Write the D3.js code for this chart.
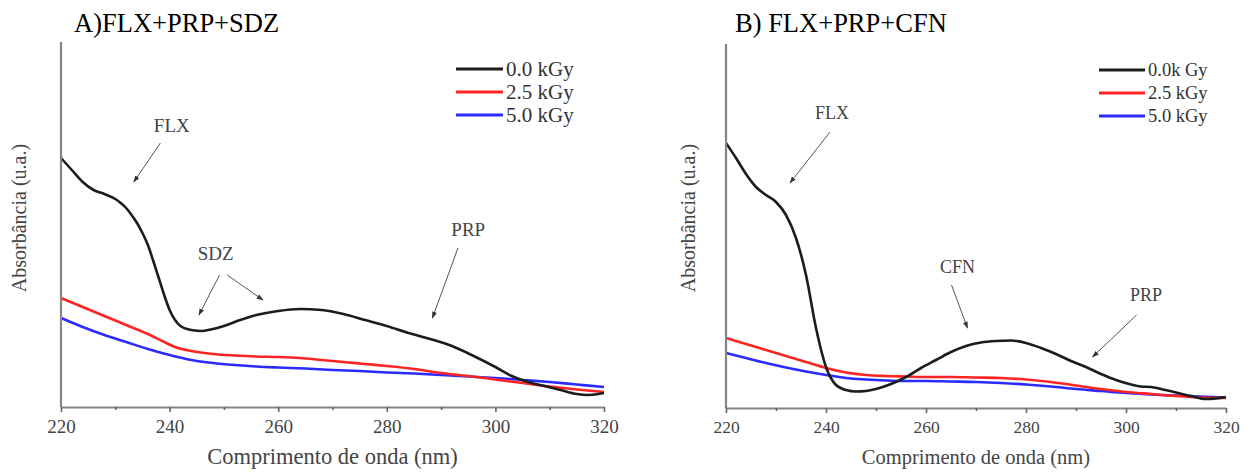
<!DOCTYPE html>
<html>
<head>
<meta charset="utf-8">
<script src="https://cdn.jsdelivr.net/npm/d3@7"></script>
<style>
  body { margin: 0; background: #fff; }
  svg { display: block; }
</style>
</head>
<body>
<div id="chart"></div>
<script>
// wavelength (nm), absorbance (u.a.)
const sdz00 = [[220,2.49],[222,2.37],[224,2.25],[226,2.17],[228,2.13],[230,2.08],[231,2.04],[232,1.99],
  [233,1.92],[234,1.84],[235,1.74],[236,1.62],[237,1.46],[238,1.29],[239,1.12],[240,0.97],[241,0.87],
  [242,0.81],[244,0.77],[246,0.76],[248,0.78],[250,0.81],[253,0.87],[256,0.92],[260,0.96],[264,0.98],
  [268,0.97],[272,0.93],[276,0.87],[280,0.81],[284,0.74],[288,0.68],[292,0.61],[296,0.51],[300,0.40],
  [303,0.31],[306,0.25],[309,0.21],[312,0.17],[315,0.13],[317,0.12],[319,0.13],[320,0.14]];
const sdz25 = [[220,1.09],[224,1.00],[228,0.91],[232,0.82],[236,0.73],[239,0.65],[241,0.60],[244,0.56],
  [248,0.53],[252,0.515],[256,0.505],[260,0.50],[264,0.49],[268,0.47],[272,0.45],[276,0.43],[280,0.41],
  [285,0.38],[290,0.34],[295,0.31],[300,0.275],[305,0.24],[310,0.205],[315,0.175],[320,0.15]];
const sdz50 = [[220,0.89],[224,0.80],[228,0.72],[232,0.65],[236,0.58],[240,0.52],[244,0.47],[248,0.44],
  [252,0.42],[256,0.405],[260,0.395],[265,0.385],[270,0.37],[275,0.36],[280,0.345],[285,0.335],[290,0.32],
  [295,0.305],[300,0.29],[305,0.27],[310,0.25],[315,0.225],[320,0.20]];

const cfn00 = [[220,2.65],[222,2.50],[224,2.34],[226,2.21],[228,2.13],[230,2.06],[232,1.93],[234,1.70],
  [236,1.33],[238,0.80],[240,0.41],[242,0.23],[244,0.18],[246,0.165],[248,0.17],[250,0.19],[253,0.24],
  [256,0.31],[259,0.40],[262,0.48],[265,0.56],[268,0.62],[271,0.655],[274,0.67],[277,0.675],[280,0.65],
  [283,0.60],[286,0.54],[289,0.47],[292,0.41],[295,0.34],[298,0.28],[301,0.235],[303,0.215],[305,0.21],
  [307,0.19],[310,0.155],[313,0.12],[316,0.09],[318,0.095],[320,0.11]];
const cfn25 = [[220,0.70],[224,0.64],[228,0.58],[232,0.52],[236,0.46],[240,0.40],[244,0.355],[248,0.33],
  [252,0.32],[256,0.315],[260,0.31],[265,0.31],[270,0.305],[275,0.30],[280,0.285],[285,0.26],[290,0.225],
  [295,0.19],[300,0.16],[305,0.14],[310,0.12],[315,0.105],[320,0.10]];
const cfn50 = [[220,0.55],[224,0.50],[228,0.45],[232,0.405],[236,0.365],[240,0.33],[244,0.30],[248,0.285],
  [252,0.275],[256,0.27],[260,0.27],[265,0.265],[270,0.26],[275,0.25],[280,0.235],[285,0.215],[290,0.19],
  [295,0.17],[300,0.15],[305,0.135],[310,0.125],[315,0.115],[320,0.105]];

const xTicks = [220, 240, 260, 280, 300, 320];
const xMinor = [230, 250, 270, 290, 310];
const legendA = ["0.0 kGy", "2.5 kGy", "5.0 kGy"];
const legendB = ["0.0k Gy", "2.5 kGy", "5.0 kGy"];
const colors = ["#1c1c1c", "#ff2424", "#2b2bff"];

const serif = "'Liberation Serif', 'Times New Roman', serif";

const svg = d3.select("#chart").append("svg")
    .attr("width", 1253)
    .attr("height", 473);

const defs = svg.append("defs");
defs.append("marker")
    .attr("id", "head")
    .attr("viewBox", "0 0 10 10")
    .attr("refX", 9).attr("refY", 5)
    .attr("markerWidth", 7).attr("markerHeight", 7)
    .attr("markerUnits", "userSpaceOnUse")
    .attr("orient", "auto")
    .append("path")
    .attr("d", "M0,1.5L10,5L0,8.5Z")
    .attr("fill", "#333");

function drawPanel(p) {
    const g = svg.append("g");
    const x = d3.scaleLinear().domain([220, 320]).range([p.left, p.right]);
    const y = d3.scaleLinear().domain([0, p.yMax]).range([p.bottom, p.top]);

    // title
    g.append("text")
        .attr("x", p.titleX).attr("y", 32)
        .attr("font-family", serif).attr("font-size", p.titleFont)
        .attr("fill", "#000")
        .text(p.title);

    // curves (black drawn last)
    const line = d3.line()
        .x(d => x(d[0]))
        .y(d => y(d[1]))
        .curve(d3.curveMonotoneX);
    [2, 1, 0].forEach(i => {
        g.append("path")
            .datum(p.series[i])
            .attr("d", line)
            .attr("fill", "none")
            .attr("stroke", colors[i])
            .attr("stroke-width", 2.6)
            .attr("stroke-linejoin", "round");
    });

    // axes
    g.append("line")
        .attr("x1", p.left).attr("x2", p.left)
        .attr("y1", p.top).attr("y2", p.bottom)
        .attr("stroke", "#858585").attr("stroke-width", 2.2);

    const gx = g.append("g")
        .attr("transform", `translate(0,${p.bottom})`)
        .call(d3.axisBottom(x).tickValues(xTicks).tickSize(5).tickSizeOuter(0).tickPadding(8).tickFormat(d3.format("d")));
    gx.select(".domain").attr("stroke", "#858585").attr("stroke-width", 2.2);
    gx.selectAll(".tick line").attr("stroke", "#666").attr("stroke-width", 1.6);
    gx.selectAll(".tick text")
        .attr("font-family", serif)
        .attr("font-size", p.tickFont)
        .attr("fill", "#444");

    const gm = g.append("g")
        .attr("transform", `translate(0,${p.bottom})`)
        .call(d3.axisBottom(x).tickValues(xMinor).tickSize(3).tickFormat(""));
    gm.select(".domain").remove();
    gm.selectAll(".tick line").attr("stroke", "#666").attr("stroke-width", 1.6);

    // axis labels
    g.append("text")
        .attr("x", (p.left + p.right) / 2).attr("y", 464)
        .attr("text-anchor", "middle")
        .attr("font-family", serif).attr("font-size", p.labelFont)
        .attr("fill", "#444")
        .text("Comprimento de onda (nm)");

    g.append("text")
        .attr("transform", `translate(${p.yLabelX},218) rotate(-90)`)
        .attr("text-anchor", "middle")
        .attr("dominant-baseline", "central")
        .attr("font-family", serif).attr("font-size", 20)
        .attr("fill", "#444")
        .text("Absorbância (u.a.)");

    // legend
    p.legend.forEach((name, i) => {
        const ly = p.legendY + i * 23;
        g.append("line")
            .attr("x1", p.legendX).attr("x2", p.legendX + p.legendLen)
            .attr("y1", ly).attr("y2", ly)
            .attr("stroke", colors[i]).attr("stroke-width", 3);
        g.append("text")
            .attr("x", p.legendX + p.legendLen + 3).attr("y", ly)
            .attr("dominant-baseline", "central")
            .attr("font-family", serif).attr("font-size", p.legendFont)
            .attr("fill", "#333")
            .text(name);
    });

    // peak annotations
    p.notes.forEach(n => {
        g.append("text")
            .attr("x", x(n.nm)).attr("y", y(n.abs))
            .attr("text-anchor", "middle")
            .attr("dominant-baseline", "central")
            .attr("font-family", serif).attr("font-size", p.noteFont)
            .attr("fill", "#444")
            .text(n.text);
    });
    p.arrows.forEach(a => {
        g.append("line")
            .attr("x1", x(a[0])).attr("y1", y(a[1]))
            .attr("x2", x(a[2])).attr("y2", y(a[3]))
            .attr("stroke", "#555").attr("stroke-width", 1)
            .attr("marker-end", "url(#head)");
    });
}

drawPanel({
    title: "A)FLX+PRP+SDZ", titleX: 74, titleFont: 26.5,
    left: 61, right: 604, top: 42, bottom: 407, yMax: 3.65,
    series: [sdz00, sdz25, sdz50],
    legend: legendA, legendX: 456, legendY: 69, legendLen: 47, legendFont: 21,
    tickFont: 19, labelFont: 22.5, noteFont: 19, yLabelX: 19,
    notes: [
        {text: "FLX", nm: 240.4, abs: 2.82},
        {text: "SDZ", nm: 248.5, abs: 1.54},
        {text: "PRP", nm: 295.0, abs: 1.78}
    ],
    arrows: [
        [238.3, 2.64, 233.4, 2.25],
        [249.2, 1.32, 245.4, 0.92],
        [250.6, 1.32, 257.2, 1.07],
        [293.1, 1.59, 288.4, 0.89]
    ]
});

drawPanel({
    title: "B) FLX+PRP+CFN", titleX: 735, titleFont: 26.5,
    left: 726, right: 1226, top: 44, bottom: 408, yMax: 3.64,
    series: [cfn00, cfn25, cfn50],
    legend: legendB, legendX: 1099, legendY: 70, legendLen: 46, legendFont: 18.5,
    tickFont: 17.5, labelFont: 20.5, noteFont: 18, yLabelX: 688,
    notes: [
        {text: "FLX", nm: 241.2, abs: 2.95},
        {text: "CFN", nm: 266.3, abs: 1.41},
        {text: "PRP", nm: 304.0, abs: 1.13}
    ],
    arrows: [
        [240.8, 2.76, 232.8, 2.25],
        [265.1, 1.23, 268.3, 0.80],
        [302.1, 0.93, 293.3, 0.51]
    ]
});
</script>
</body>
</html>
